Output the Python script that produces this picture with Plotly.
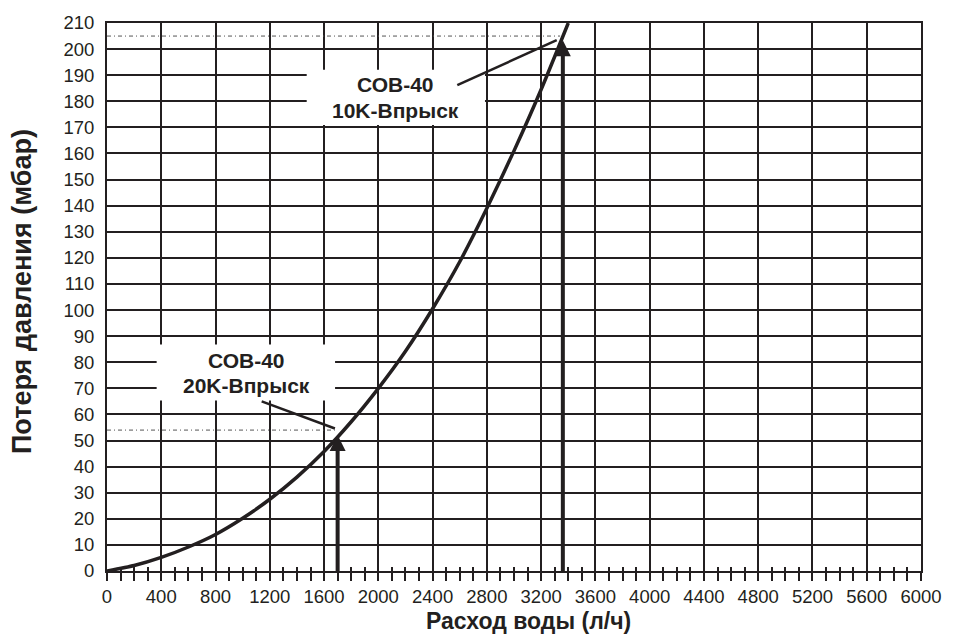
import plotly.graph_objects as go

# Pressure-loss curve of the valve: flow (l/h) vs pressure loss (mbar)
flow = [0, 200, 400, 600, 800, 1000, 1200, 1400, 1600, 1800, 2000,
        2200, 2400, 2600, 2800, 3000, 3200, 3400]
dp = [0, 2.1, 5.2, 9.2, 14.0, 20.2, 27.5, 36.0, 45.8, 57.2, 70.0,
      84.2, 100.5, 118.5, 139.0, 161.0, 184.5, 210.0]

# Operating points marked with vertical arrows
point_names = ["СОВ-40<br>20K-Впрыск", "СОВ-40<br>10K-Впрыск"]
point_flow = [1700, 3360]
point_tip = [52.1, 203.4]
point_level = [54, 205]          # dotted reference levels
level_end = [1680, 3340]

# Callout leader lines: (x0, y0) -> (x1, y1)
leader_x0 = [1140, 2582]
leader_y0 = [65, 186.2]
leader_x1 = [1680, 3315]
leader_y1 = [54.6, 203.4]

# Label boxes that blank out the grid behind the callout text
box_x0 = [366, 1472]
box_x1 = [1681, 2786]
box_y0 = [65.3, 170.9]
box_y1 = [86.8, 192.1]
label_x = [1030, 2130]
label_line1_y = [80.6, 186.5]
label_line2_y = [71.1, 176.3]

x_ticks = list(range(0, 6001, 400))
y_ticks = list(range(0, 211, 10))

INK = "#231f20"
FONT = "Liberation Sans, Arial, sans-serif"

fig = go.Figure()

fig.add_trace(go.Scatter(
    x=flow, y=dp, mode="lines",
    line=dict(color=INK, width=3.5, shape="spline", smoothing=0.6),
    cliponaxis=True, showlegend=False, hoverinfo="skip"))

for fx, tip in zip(point_flow, point_tip):
    fig.add_trace(go.Scatter(
        x=[fx, fx], y=[0, tip - 3], mode="lines",
        line=dict(color=INK, width=4), showlegend=False, hoverinfo="skip"))
    fig.add_trace(go.Scatter(
        x=[fx], y=[tip], mode="markers",
        marker=dict(symbol="arrow-up", size=16, color=INK,
                    line=dict(width=0)),
        showlegend=False, hoverinfo="skip", cliponaxis=False))

shapes = []
for lvl, xe in zip(point_level, level_end):
    shapes.append(dict(type="line", xref="x", yref="y", x0=0, x1=xe,
                       y0=lvl, y1=lvl, layer="between",
                       line=dict(color="#555555", width=1,
                                 dash="4px,3px,1px,3px")))
for i in range(2):
    shapes.append(dict(type="rect", xref="x", yref="y",
                       x0=box_x0[i], x1=box_x1[i], y0=box_y0[i], y1=box_y1[i],
                       fillcolor="white", line=dict(width=0), layer="between"))
    shapes.append(dict(type="line", xref="x", yref="y",
                       x0=leader_x0[i], y0=leader_y0[i],
                       x1=leader_x1[i], y1=leader_y1[i],
                       line=dict(color=INK, width=2.5), layer="above"))

annotations = []
for i, name in enumerate(point_names):
    l1, l2 = name.split("<br>")
    for txt, yy in ((l1, label_line1_y[i]), (l2, label_line2_y[i])):
        annotations.append(dict(
            x=label_x[i], y=yy, xref="x", yref="y", text=txt,
            showarrow=False, xanchor="center", yanchor="middle",
            font=dict(family=FONT, size=21, color=INK, weight="bold")))

annotations.append(dict(
    text="Расход воды (л/ч)", xref="paper", yref="paper",
    x=0.518, y=-0.092, xanchor="center", yanchor="middle", showarrow=False,
    font=dict(family=FONT, size=23, color=INK, weight="bold")))
annotations.append(dict(
    text="Потеря давления (мбар)", xref="paper", yref="paper",
    x=-0.105, y=0.51, xanchor="center", yanchor="middle", showarrow=False,
    textangle=-90,
    font=dict(family=FONT, size=27, color=INK, weight="bold")))

fig.update_layout(
    width=955, height=634,
    margin=dict(l=107, r=34, t=16, b=63),
    paper_bgcolor="white", plot_bgcolor="white",
    shapes=shapes, annotations=annotations,
    font=dict(family=FONT, color=INK),
    xaxis=dict(
        range=[0, 6000], tickvals=x_ticks,
        ticktext=[str(v) for v in x_ticks],
        showgrid=True, gridcolor=INK, gridwidth=2,
        showline=True, linecolor=INK, linewidth=2, mirror=True,
        ticks="outside", ticklen=8, tickwidth=2, tickcolor=INK,
        minor=dict(dtick=100, ticks="outside", ticklen=8, tickwidth=2,
                   tickcolor=INK, showgrid=False),
        tickfont=dict(size=18.5, color=INK, family=FONT),
        zeroline=False, fixedrange=True),
    xaxis2=dict(
        range=[0, 6000], overlaying="x", anchor="y", side="bottom",
        dtick=100, tick0=0, ticks="inside", ticklen=4, tickwidth=2,
        tickcolor=INK, showticklabels=False, showgrid=False,
        showline=False, zeroline=False),
    yaxis=dict(
        range=[0, 210], tickvals=y_ticks,
        showgrid=True, gridcolor=INK, gridwidth=2,
        showline=True, linecolor=INK, linewidth=2, mirror=True,
        ticks="", ticklabelstandoff=7,
        tickfont=dict(size=18.5, color=INK, family=FONT),
        zeroline=False, fixedrange=True),
)

# invisible trace to activate the secondary x axis used for inner tick marks
fig.add_trace(go.Scatter(x=[0], y=[0], xaxis="x2", yaxis="y", mode="markers",
                         marker=dict(opacity=0), showlegend=False,
                         hoverinfo="skip"))

fig.write_html("out.html")
